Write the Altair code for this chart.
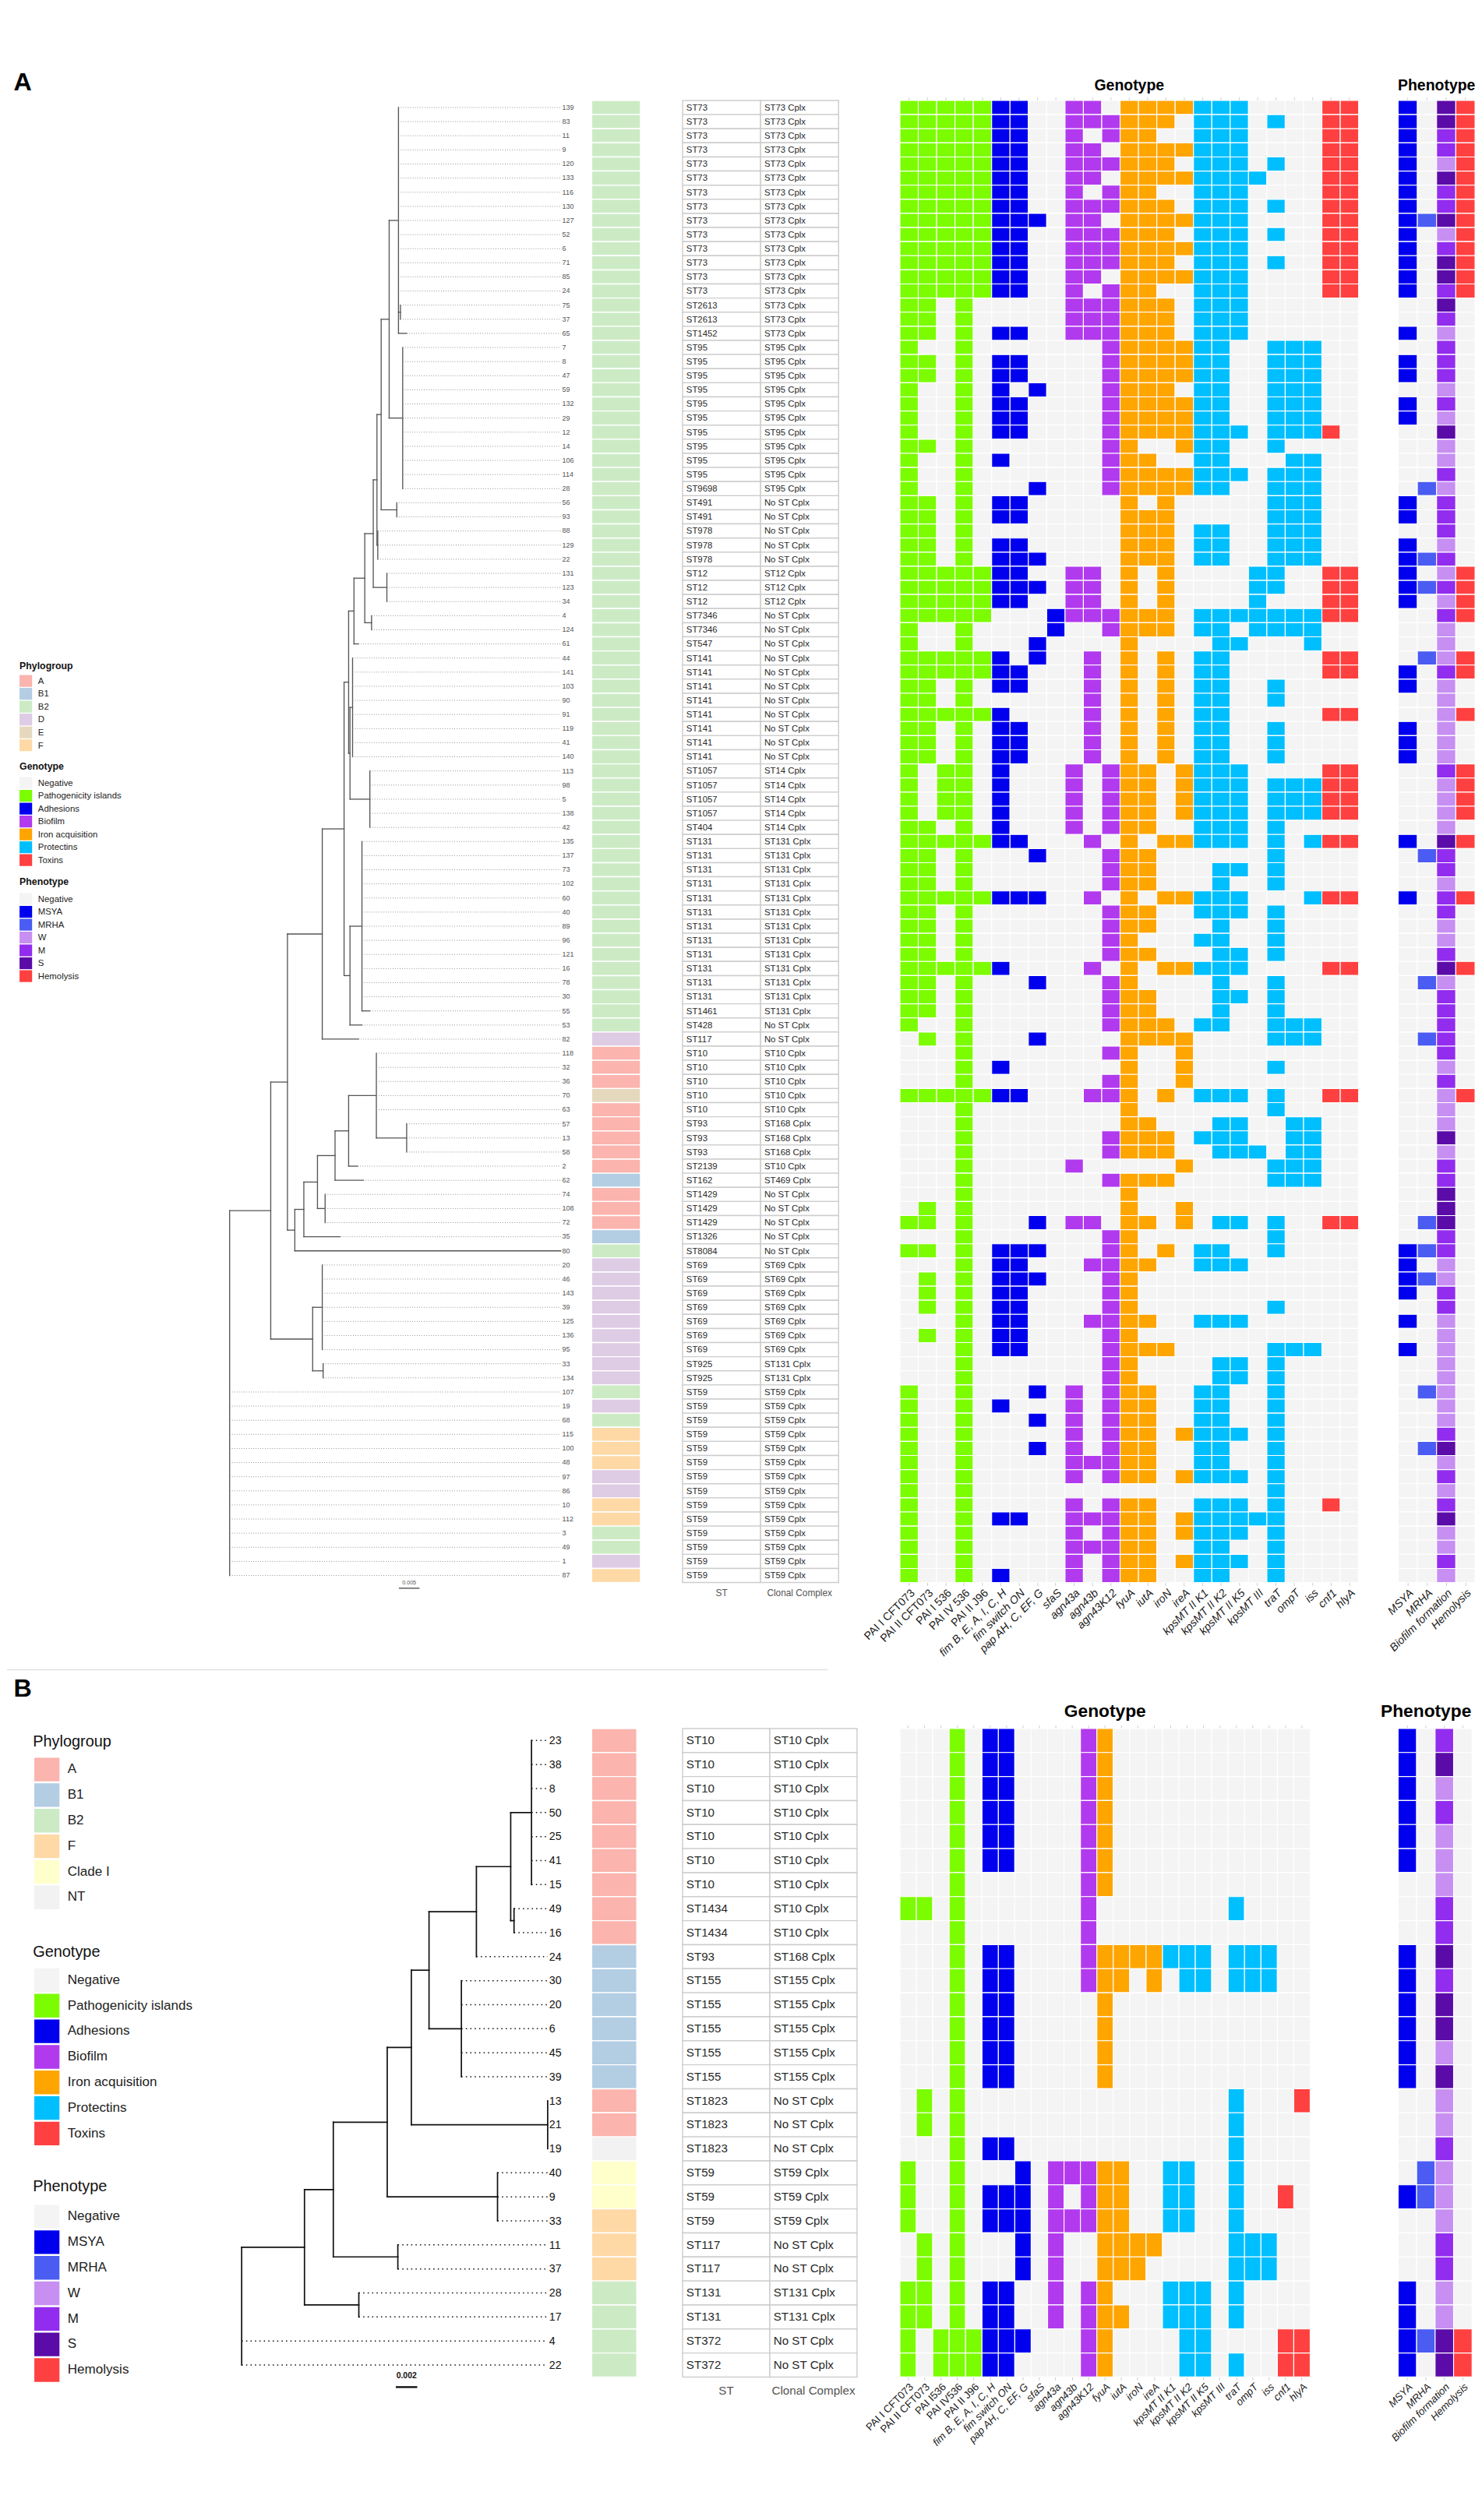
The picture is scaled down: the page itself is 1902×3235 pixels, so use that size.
import altair as alt
import pandas as pd

FONT = "Liberation Sans"

# ====================== DATA ======================
GENES_A = ["PAI I CFT073", "PAI II CFT073", "PAI I 536", "PAI IV 536", "PAI II J96",
           "fim B, E, A, I, C, H", "fim switch ON", "pap AH, C, EF, G", "sfaS",
           "agn43a", "agn43b", "agn43K12", "fyuA", "iutA", "iroN", "ireA",
           "kpsMT II K1", "kpsMT II K2", "kpsMT II K5", "kpsMT III", "traT", "ompT", "iss",
           "cnf1", "hlyA"]
GENES_B = ["PAI I CFT073", "PAI II CFT073", "PAI I536", "PAI IV536", "PAI II J96",
           "fim B, E, A, I, C, H", "fim switch ON", "pap AH, C, EF, G", "sfaS",
           "agn43a", "agn43b", "agn43K12", "fyuA", "iutA", "iroN", "ireA",
           "kpsMT II K1", "kpsMT II K2", "kpsMT II K5", "kpsMT III", "traT", "ompT", "iss",
           "cnf1", "hlyA"]
GENE_GROUP = (["Pathogenicity islands"] * 5 + ["Adhesions"] * 4 + ["Biofilm"] * 3 +
              ["Iron acquisition"] * 4 + ["Protectins"] * 7 + ["Toxins"] * 2)
PHENO_COLS = ["MSYA", "MRHA", "Biofilm formation", "Hemolysis"]

GENO_CATS = ["Negative", "Pathogenicity islands", "Adhesions", "Biofilm",
             "Iron acquisition", "Protectins", "Toxins"]
GENO_COLORS = ["#f4f4f4", "#7cfc00", "#0000ee", "#b23aee", "#ffa500", "#00bfff", "#ff4040"]
PHENO_CATS = ["Negative", "MSYA", "MRHA", "W", "M", "S", "Hemolysis"]
PHENO_COLORS = ["#f4f4f4", "#0000ee", "#4a5cf2", "#c78ff2", "#922cee", "#5b0ba8", "#ff4040"]
PHYLO_A_CATS = ["A", "B1", "B2", "D", "E", "F"]
PHYLO_A_COLORS = ["#fbb4ae", "#b3cde3", "#ccebc5", "#decbe4", "#e5d8bd", "#fed9a6"]
PHYLO_B_CATS = ["A", "B1", "B2", "F", "Clade I", "NT"]
PHYLO_B_COLORS = ["#fbb4ae", "#b3cde3", "#ccebc5", "#fed9a6", "#ffffcc", "#f2f2f2"]

# ---------- panel A ----------
A_ST_RUNS = [("ST73", "ST73 Cplx", 14), ("ST2613", "ST73 Cplx", 2), ("ST1452", "ST73 Cplx", 1),
             ("ST95", "ST95 Cplx", 10), ("ST9698", "ST95 Cplx", 1), ("ST491", "No ST Cplx", 2),
             ("ST978", "No ST Cplx", 3), ("ST12", "ST12 Cplx", 3), ("ST7346", "No ST Cplx", 2),
             ("ST547", "No ST Cplx", 1), ("ST141", "No ST Cplx", 8), ("ST1057", "ST14 Cplx", 4),
             ("ST404", "ST14 Cplx", 1), ("ST131", "ST131 Cplx", 12), ("ST1461", "ST131 Cplx", 1),
             ("ST428", "No ST Cplx", 1), ("ST117", "No ST Cplx", 1), ("ST10", "ST10 Cplx", 5),
             ("ST93", "ST168 Cplx", 3), ("ST2139", "ST10 Cplx", 1), ("ST162", "ST469 Cplx", 1),
             ("ST1429", "No ST Cplx", 3), ("ST1326", "No ST Cplx", 1), ("ST8084", "No ST Cplx", 1),
             ("ST69", "ST69 Cplx", 7), ("ST925", "ST131 Cplx", 2), ("ST59", "ST59 Cplx", 14)]
A_PHYLO_RUNS = [("B2", 66), ("D", 1), ("A", 3), ("E", 1), ("A", 5), ("B1", 1), ("A", 3), ("B1", 1),
                ("B2", 1), ("D", 9), ("B2", 1), ("D", 1), ("B2", 1), ("F", 3), ("D", 2), ("F", 2),
                ("B2", 2), ("D", 1), ("F", 1)]
# genotype presence: PAI(5) adhesins(4) biofilm(3) iron(4) protectins(7) toxins(2)
A_GENO = [
    "11111 1100 110 1111 1110000 11", "11111 1100 111 1110 1110100 11", "11111 1100 101 1100 1110000 11",
    "11111 1100 110 1111 1110000 11", "11111 1100 111 1110 1110100 11", "11111 1100 110 1111 1111000 11",
    "11111 1100 101 1100 1110000 11", "11111 1100 111 1110 1110100 11", "11111 1110 110 1111 1110000 11",
    "11111 1100 111 1110 1110100 11", "11111 1100 111 1111 1110000 11", "11111 1100 111 1110 1110100 11",
    "11111 1100 110 1111 1110000 11", "11111 1100 101 1100 1110000 11", "11010 0000 111 1110 1110000 00",
    "11010 0000 111 1110 1110000 00", "11010 1100 111 1110 1110000 00", "10010 0000 001 1111 1100111 00",
    "11010 1100 001 1111 1100111 00", "11010 1100 001 1111 1100111 00", "10010 1010 001 1110 1100111 00",
    "10010 1100 001 1111 1100111 00", "10010 1100 001 1111 1100111 00", "10010 1100 001 1111 1110111 10",
    "11010 0000 001 1001 1100100 00", "10010 1000 001 1100 1100011 00", "10010 0000 001 1111 1110111 00",
    "10010 0010 001 1111 1100111 00", "11010 1100 000 1010 0000111 00", "11010 1100 000 1110 0000111 00",
    "11010 0000 000 1110 1100111 00", "11010 1100 000 1110 1100111 00", "11010 1110 000 1110 1100111 00",
    "11111 1100 110 1010 0001100 11", "11111 1110 110 1010 0001100 11", "11111 1100 110 1010 0001000 11",
    "11111 0001 111 1110 1111111 11", "10010 0001 001 1110 1101111 00", "10010 0010 000 1000 0110001 00",
    "11111 1010 010 1010 1100000 11", "11111 1100 010 1010 1100000 11", "11010 1100 010 1010 1100100 00",
    "11010 0000 010 1010 1100100 00", "11111 1000 010 1010 1100000 11", "11010 1100 010 1010 1100100 00",
    "11010 1100 010 1010 1100100 00", "11010 1100 010 1010 1100100 00", "10110 1000 101 1101 1110000 11",
    "10110 1000 101 1101 1110111 11", "10110 1000 101 1101 1110111 11", "10110 1000 101 1101 1110111 11",
    "11010 1000 101 1100 1110100 00", "11111 1100 010 1011 1110101 11", "11010 0010 001 1100 0000100 00",
    "11010 0000 001 1100 0110100 00", "11010 0000 001 1100 0100100 00", "11111 1110 010 1011 1110001 11",
    "11010 0000 001 1100 1110100 00", "11010 0000 001 1100 0100100 00", "11010 0000 001 1000 1100100 00",
    "11010 0000 001 1100 0110100 00", "11111 1000 010 1011 1110000 11", "11010 0010 001 1000 0100100 00",
    "11010 0000 001 1100 0110100 00", "11010 0000 001 1100 0100100 00", "10010 0000 001 1110 1100111 00",
    "01010 0010 000 1111 0000111 00", "00010 0000 001 1001 0000000 00", "00010 1000 000 1001 0000100 00",
    "00010 0000 001 1001 0000000 00", "11111 1100 011 1010 1110100 11", "00010 0000 000 1000 0000100 00",
    "00010 0000 000 1100 0110011 00", "00010 0000 001 1110 1110011 00", "00010 0000 001 1110 0111011 00",
    "00010 0000 100 0001 0000111 00", "00010 0000 001 1110 0000111 00", "00010 0000 000 1000 0000000 00",
    "01010 0000 000 1001 0000000 00", "11010 0010 110 1101 0110100 11", "00010 0000 001 1000 0000100 00",
    "11010 1110 001 1010 1100100 00", "00010 1100 011 1100 1110000 00", "01010 1110 001 1000 0000000 00",
    "01010 1100 001 1000 0000000 00", "01010 1100 001 1000 0000100 00", "00010 1100 011 1100 1110000 00",
    "01010 1100 001 1000 0000000 00", "00010 1100 001 1110 0000111 00", "00010 0000 001 1000 0110100 00",
    "00010 0000 001 1000 0110100 00", "10010 0010 101 1100 1100100 00", "10010 1000 101 1100 1100100 00",
    "10010 0010 101 1100 1100100 00", "10010 0000 101 1101 1110100 00", "10010 0010 101 1100 1100100 00",
    "10010 0000 111 1100 1100100 00", "10010 0000 101 1101 1110100 00", "10010 0000 000 0000 0000100 00",
    "10010 0000 101 1100 1110100 10", "10010 1100 111 1101 1111100 00", "10010 0000 101 1101 1110100 00",
    "10010 0000 111 1100 1100100 00", "10010 0000 101 1101 1110100 00", "10010 1000 101 1100 1100100 00",
]
# phenotype: MSYA, MRHA, biofilm level (0/W/M/S), hemolysis
A_PHENO = [
    "10S1", "10S1", "10M1", "10M1", "10W1", "10S1", "10M1", "10M1", "11S1", "10W1", "10M1", "10S1", "10S1", "10M1",
    "00S0", "00M0", "10W0", "00M0", "10M0", "10M0", "00W0", "10M0", "10W0", "00S0", "00W0", "00W0", "00M0", "01W0",
    "10M0", "10M0", "00M0", "10W0", "11M0", "10W1", "11M1", "10W1", "00M1", "00W0", "00W0",
    "01W1", "10M1", "10W0", "00W0", "00W1", "10W0", "10W0", "10W0",
    "00M1", "00W1", "00W1", "00W1", "00W0",
    "10S1", "01M0", "00M0", "00W0", "10M1", "00M0", "00W0", "00W0", "00M0", "00S1", "01W0", "00M0", "00M0", "00M0",
    "01M0", "00M0", "00W0", "00M0", "00W1", "00W0", "00W0", "00S0", "00W0", "00M0", "00M0", "00S0", "00S0", "01S0",
    "00M0", "11M0",
    "10W0", "11W0", "10M0", "00M0", "10W0", "00W0", "10W0", "00W0", "00W0",
    "01W0", "00W0", "00W0", "00M0", "01S0", "00W0", "00M0", "00W0", "00M0", "00S0", "00W0", "00W0", "00M0", "00W0",
]

# ---------- panel B ----------
B_ST_RUNS = [("ST10", "ST10 Cplx", 7), ("ST1434", "ST10 Cplx", 2), ("ST93", "ST168 Cplx", 1),
             ("ST155", "ST155 Cplx", 5), ("ST1823", "No ST Cplx", 3), ("ST59", "ST59 Cplx", 3),
             ("ST117", "No ST Cplx", 2), ("ST131", "ST131 Cplx", 2), ("ST372", "No ST Cplx", 2)]
B_PHYLO_RUNS = [("A", 9), ("B1", 6), ("A", 2), ("NT", 1), ("Clade I", 2), ("F", 3), ("B2", 4)]
B_GENO = [
    "00010 1100 001 1000 0000000 00", "00010 1100 001 1000 0000000 00", "00010 1100 001 1000 0000000 00",
    "00010 1100 001 1000 0000000 00", "00010 1100 001 1000 0000000 00", "00010 1100 001 1000 0000000 00",
    "00010 0000 001 1000 0000000 00", "11010 0000 001 0000 0000100 00", "00010 0000 001 0000 0000000 00",
    "00010 1100 001 1111 1110111 00", "00010 1100 001 1101 0110111 00", "00010 1100 000 1000 0000000 00",
    "00010 1100 000 1000 0000000 00", "00010 1100 000 1000 0000000 00", "00010 1100 000 1000 0000000 00",
    "01010 0000 000 0000 0000100 01", "01010 0000 000 0000 0000100 00", "00010 1100 000 0000 0000100 00",
    "10010 0010 111 1100 1100100 00", "10010 1110 101 1100 1100100 10", "10010 1110 111 1100 1100100 00",
    "01010 0010 100 1111 0000111 00", "01010 0010 100 1110 0000111 00", "11010 1100 101 1000 1110100 00",
    "11010 1100 101 1100 1110100 00", "10111 1110 001 1000 0110000 11", "10111 1100 001 1000 0110100 11",
]
B_PHENO = ["10M0", "10S0", "10W0", "10M0", "10W0", "10W0", "00W0", "00M0", "00M0", "10S0", "10M0", "10S0",
           "10S0", "10W0", "10S0", "00W0", "00W0", "00M0", "01W0", "11W0", "00W0", "00M0", "00M0", "10W0",
           "10W0", "11S1", "10S1"]


# ---------- phylogenies (branch depths in substitutions/site) ----------
def N(depth, *children):
    return ("node", depth, list(children))


def L(label, depth):
    return ("leaf", depth, label)


TREE_A = N(0.0,
    N(0.00993,
      N(0.01397,
        N(0.02238,
          N(0.02765,
            N(0.02875,
              N(0.03004,
                N(0.03265,
                  N(0.03470,
                    N(0.03559,
                      N(0.03661,
                        N(0.03854,
                          N(0.04079, "139", "83", "11", "9", "120", "133", "116", "130", "127", "52", "6",
                            "71", "85", "24", N(0.04127, "75", "37"), L("65", 0.04277)),
                          N(0.04181, "7", "8", "47", "59", "132", "29", "12", "14", "106", "114", "28")),
                        N(0.04038, "56", "93")),
                      N(0.03579, "88", "129", "22")),
                    N(0.03799, "131", "123", "34")),
                  N(0.03429, "4", "124")),
                L("61", 0.03115)),
              N(0.02908,
                N(0.02970, "44", "141", "103", "90", "91", "119", "41", "140"),
                N(0.03388, "113", "98", "5", "138", "42"))),
            N(0.02908,
              N(0.03197, "135", "137", "73", "102", "60", "40", "89", "96", "121", "16", "78", "30",
                L("55", 0.03390)),
              L("53", 0.03197))),
          L("82", 0.03115)),
        N(0.01575,
          N(0.01793,
            N(0.02122,
              N(0.02547,
                N(0.02875,
                  N(0.03545, "118", "32", "36", "70", "63", N(0.04277, "57", "13", "58")),
                  L("2", 0.03093)),
                L("62", 0.03229)),
              N(0.02307, "74", "108", "72")),
            L("35", 0.02670)),
          L("80", 0.0800))),
      N(0.02006,
        N(0.02238, "20", "46", "143", "39", "125", "136", "95"),
        N(0.02259, "33", "134"))),
    "107", "19", "68", "115", "100", "48", "97", "86", "10", "112", "3", "49", "1", "87")

TREE_B = N(0.0,
    N(0.00586,
      N(0.00855,
        N(0.01358,
          N(0.01583,
            N(0.01748,
              N(0.02190,
                N(0.02510,
                  N(0.02704, "23", "38", "8", "50", "25", "41", "15"),
                  N(0.02541, "49", "16")),
                "24"),
              N(0.02050, "30", "20", "6", "45", "39")),
            N(0.02855, "13", "21", "19")),
          N(0.02387, "40", "9", "33")),
        N(0.01457, "11", "37")),
      N(0.01093, "28", "17")),
    "4", "22")

SCALEBAR_A = 0.005
SCALEBAR_B = 0.002


# ====================== HELPERS ======================
def expand(runs):
    out = []
    for r in runs:
        out += [r[:-1] if len(r) > 2 else r[0]] * r[-1]
    return out


def layout_tree(root):
    segs, leaves = [], []
    count = [0]

    def walk(node, pdepth):
        if isinstance(node, str):
            node = ("leaf", None, node)
        kind, depth, payload = node
        d = pdepth if depth is None else depth
        if kind == "leaf":
            count[0] += 1
            y = float(count[0])
            leaves.append({"label": payload, "depth": d, "y": y})
            if d > pdepth:
                segs.append({"x": pdepth, "x2": d, "y": y, "y2": y})
            return y
        ys = [walk(c, d) for c in payload]
        y = (min(ys) + max(ys)) / 2
        segs.append({"x": d, "x2": d, "y": min(ys), "y2": max(ys)})
        if d > pdepth:
            segs.append({"x": pdepth, "x2": d, "y": y, "y2": y})
        return y

    walk(root, 0.0)
    maxd = max(l["depth"] for l in leaves)
    dashes = [{"x": l["depth"], "x2": maxd, "y": l["y"], "y2": l["y"]} for l in leaves if l["depth"] < maxd]
    tips = [{"x": maxd, "y": l["y"], "label": l["label"]} for l in leaves]
    return pd.DataFrame(segs), pd.DataFrame(dashes), pd.DataFrame(tips), maxd


def row_scale(n, hdr_rows):
    # rows 1..n from the top, with a header band above row 1
    return alt.Scale(domain=[n + 0.5, 0.5 - hdr_rows], nice=False, zero=False)


def heading_layer(text, x_px, y_px, fs, weight="bold", align="center"):
    return alt.Chart(pd.DataFrame({"t": [text]})).mark_text(
        align=align, baseline="alphabetic", fontSize=fs, fontWeight=weight, font=FONT, color="black"
    ).encode(text="t:N", x=alt.value(x_px), y=alt.value(y_px))


def legend_layers(groups, w, h, st):
    """groups: (title, title_y, first_item_y, categories, colours); y in view pixels."""
    titles, sw, labs = [], [], []
    for title, ty, fy, cats, cols in groups:
        titles.append({"x": st["tx"], "y": ty, "t": title})
        for k, (c, col) in enumerate(zip(cats, cols)):
            yc = fy + k * st["step"]
            sw.append({"x0": st["sx"], "x1": st["sx"] + st["sw"], "y0": yc - st["sh"] / 2,
                       "y1": yc + st["sh"] / 2, "colour": col})
            labs.append({"x": st["lx"], "y": yc, "t": c})
    xs = alt.Scale(domain=[0, w], nice=False, zero=False)
    ys = alt.Scale(domain=[h, 0], nice=False, zero=False)
    sw_l = alt.Chart(pd.DataFrame(sw)).mark_rect().encode(
        x=alt.X("x0:Q", scale=xs, axis=None), x2="x1:Q",
        y=alt.Y("y0:Q", scale=ys, axis=None), y2="y1:Q",
        color=alt.Color("colour:N", scale=None))
    t_l = alt.Chart(pd.DataFrame(titles)).mark_text(
        align="left", baseline="middle", font=FONT, fontSize=st["tfs"], fontWeight=st["tfw"], color="#111"
    ).encode(x=alt.X("x:Q", scale=xs, axis=None), y=alt.Y("y:Q", scale=ys, axis=None), text="t:N")
    l_l = alt.Chart(pd.DataFrame(labs)).mark_text(
        align="left", baseline="middle", font=FONT, fontSize=st["lfs"], color="#222"
    ).encode(x=alt.X("x:Q", scale=xs, axis=None), y=alt.Y("y:Q", scale=ys, axis=None), text="t:N")
    return [sw_l, t_l, l_l]


def separator_layer(x_len, y_px):
    return alt.Chart(pd.DataFrame({"v": [0]})).mark_rule(color="#e3e3e3", strokeWidth=1.5).encode(
        x=alt.value(0), x2=alt.value(x_len), y=alt.value(y_px))


def side_view(w, h, layers):
    base = alt.Chart(pd.DataFrame({"v": [0]})).mark_rect(opacity=0).encode(
        x=alt.value(0), x2=alt.value(1), y=alt.value(0), y2=alt.value(1))
    return alt.layer(base, *layers).properties(width=w, height=h)


def spacer(w, h):
    return alt.Chart(pd.DataFrame({"v": [0]})).mark_rect(opacity=0).encode(
        x=alt.value(0), x2=alt.value(1), y=alt.value(0), y2=alt.value(1)).properties(width=w, height=h)


def tree_view(root, n, hdr, width, row_h, root_off, px_per_unit, bar_len, bar_x, st):
    segs, dashes, tips, maxd = layout_tree(root)
    xs = alt.Scale(domain=[-root_off / px_per_unit, (width - root_off) / px_per_unit], nice=False, zero=False)
    ys = row_scale(n, hdr / row_h)

    def enc(ch):
        return ch.encode(x=alt.X("x:Q", scale=xs, axis=None), x2=alt.X2("x2:Q"),
                         y=alt.Y("y:Q", scale=ys, axis=None), y2=alt.Y2("y2:Q"))

    solid = enc(alt.Chart(segs).mark_rule(color=st["line"], strokeWidth=st["lw"], strokeCap="square"))
    dash = enc(alt.Chart(dashes).mark_rule(color=st["dash"], strokeWidth=st["dw"], strokeDash=st["dash_pat"]))
    text = alt.Chart(tips).mark_text(align="left", baseline="middle", dx=st["dx"], fontSize=st["fs"],
                                     font=FONT, color=st["tcol"]).encode(
        x=alt.X("x:Q", scale=xs, axis=None), y=alt.Y("y:Q", scale=ys, axis=None), text="label:N")
    bar = pd.DataFrame({"x": [bar_x], "x2": [bar_x + bar_len], "y": [n + st["bar_dy"]],
                        "y2": [n + st["bar_dy"]], "tx": [bar_x + bar_len / 2], "ty": [n + st["txt_dy"]],
                        "label": [str(bar_len)]})
    bar_rule = enc(alt.Chart(bar).mark_rule(color=st["bar_col"], strokeWidth=st["bar_w"]))
    bar_txt = alt.Chart(bar).mark_text(baseline="middle", fontSize=st["bar_fs"], font=FONT,
                                       fontWeight=st["bar_fw"], color=st["bar_col"]).encode(
        x=alt.X("tx:Q", scale=xs, axis=None), y=alt.Y("ty:Q", scale=ys, axis=None), text="label:N")
    return alt.layer(solid, dash, text, bar_rule, bar_txt).properties(width=width, height=hdr + n * row_h)


def strip_view(phylo, n, hdr, width, row_h, cats, colors):
    df = pd.DataFrame({"row": list(range(1, n + 1)), "phylo": phylo, "col": "Phylogroup"})
    df["y0"] = df["row"] - 0.5
    df["y1"] = df["row"] + 0.5
    return alt.Chart(df).mark_rect(stroke="white", strokeWidth=1.5).encode(
        x=alt.X("col:N", axis=None, scale=alt.Scale(paddingInner=0, paddingOuter=0)),
        y=alt.Y("y0:Q", axis=None, scale=row_scale(n, hdr / row_h)), y2="y1:Q",
        color=alt.Color("phylo:N", scale=alt.Scale(domain=cats, range=colors), legend=None),
    ).properties(width=width, height=hdr + n * row_h)


def table_view(st_cc, n, hdr, width, row_h, fs, lfs, lpad):
    recs = []
    for i, (st, cc) in enumerate(st_cc, start=1):
        recs.append({"row": i, "col": "ST", "val": st})
        recs.append({"row": i, "col": "Clonal Complex", "val": cc})
    df = pd.DataFrame(recs)
    df["y0"] = df["row"] - 0.5
    df["y1"] = df["row"] + 0.5
    ax = alt.Axis(title=None, orient="bottom", labelAngle=0, domain=False, ticks=False, labelColor="#555",
                  labelFont=FONT, labelFontSize=lfs, labelPadding=lpad)
    xsc = alt.Scale(domain=["ST", "Clonal Complex"], paddingInner=0, paddingOuter=0)
    ys = row_scale(n, hdr / row_h)
    rect = alt.Chart(df).mark_rect(fill="white", stroke="#cdcdcd", strokeWidth=1.5).encode(
        x=alt.X("col:N", scale=xsc, axis=ax), y=alt.Y("y0:Q", scale=ys, axis=None), y2="y1:Q")
    text = alt.Chart(df).mark_text(align="left", baseline="middle", dx=5, fontSize=fs, font=FONT,
                                   color="#2a2a2a").encode(
        x=alt.X("col:N", scale=xsc, axis=ax, bandPosition=0),
        y=alt.Y("row:Q", scale=ys, axis=None), text="val:N")
    return alt.layer(rect, text).properties(width=width, height=hdr + n * row_h)


LABEL_STYLE = {"condition": {"test": "indexof(datum.label, 'PAI') === 0", "value": "normal"},
               "value": "italic"}


def heat_view(df, cols, n, hdr, cw, row_h, cats, colors, title, title_fs, title_x, title_y, title_align, lfs):
    df = df.copy()
    df["y0"] = df["row"] - 0.5
    df["y1"] = df["row"] + 0.5
    width = len(cols) * cw
    xsc = alt.Scale(domain=cols, paddingInner=0, paddingOuter=0)
    ax = alt.Axis(title=None, orient="bottom", labelAngle=-45, labelAlign="right", labelBaseline="top",
                  labelFont=FONT, labelFontSize=lfs, labelColor="#222", labelFontStyle=LABEL_STYLE,
                  domain=False, ticks=True, tickSize=4, tickColor="#c8c8c8", labelPadding=2,
                  labelLimit=400, labelOverlap=False)
    cells = alt.Chart(df).mark_rect(stroke="white", strokeWidth=1.2).encode(
        x=alt.X("col:N", scale=xsc, axis=ax),
        y=alt.Y("y0:Q", axis=None, scale=row_scale(n, hdr / row_h)), y2="y1:Q",
        color=alt.Color("cat:N", scale=alt.Scale(domain=cats, range=colors), legend=None),
    )
    top_ticks = alt.Chart(pd.DataFrame({"col": cols})).mark_rule(color="#c8c8c8", strokeWidth=1).encode(
        x=alt.X("col:N", scale=xsc, axis=ax), y=alt.value(hdr - 4), y2=alt.value(hdr - 0.5))
    head = heading_layer(title, width * title_x, title_y, title_fs, align=title_align)
    return alt.layer(cells, top_ticks, head).properties(width=width, height=hdr + n * row_h)


def geno_df(rows, genes):
    recs = []
    for i, s in enumerate(rows, start=1):
        bits = s.replace(" ", "")
        for j, g in enumerate(genes):
            recs.append({"row": i, "col": g, "cat": GENE_GROUP[j] if bits[j] == "1" else "Negative"})
    return pd.DataFrame(recs)


def pheno_df(rows):
    recs = []
    for i, c in enumerate(rows, start=1):
        vals = ["MSYA" if c[0] == "1" else "Negative", "MRHA" if c[1] == "1" else "Negative",
                c[2] if c[2] in "WMS" else "Negative", "Hemolysis" if c[3] == "1" else "Negative"]
        for col, v in zip(PHENO_COLS, vals):
            recs.append({"row": i, "col": col, "cat": v})
    return pd.DataFrame(recs)


# ====================== LAYOUT ======================
nA, nB = len(A_GENO), len(B_GENO)
RA, RB = 19.1, 32.5
ORIGIN = 8                      # page margin
VIEW_TOP_A, ROWS_TOP_A = 8.0, 48.5
VIEW_TOP_B, ROWS_TOP_B = 2165.0, 2250.5
HDR_A = ROWS_TOP_A - VIEW_TOP_A
HDR_B = ROWS_TOP_B - VIEW_TOP_B
HA, HB = HDR_A + nA * RA, HDR_B + nB * RB
ROW_GAP = VIEW_TOP_B - (VIEW_TOP_A + HA)

wA = {"sp": 230, "tree": 499, "strip": 66, "g1": 57, "table": 211, "g2": 57.5,
      "heat": 25 * 24.82, "g3": 34, "pheno": 4 * 26.0}
wB = {"sp": 292, "tree": 487, "strip": 61, "g1": 47, "table": 236, "g2": 49,
      "heat": 25 * 22.2, "g3": 53, "pheno": 4 * 25.0}


def lefts(w):
    keys = ["sp", "tree", "strip", "g1", "table", "g2", "heat", "g3", "pheno"]
    out, x = {}, ORIGIN
    for k in keys:
        out[k] = x
        x += w[k]
    return out


xA, xB = lefts(wA), lefts(wB)

# legend styles (view pixels)
legA = {"tx": 17, "sx": 17, "sw": 17, "sh": 16, "lx": 42, "step": 17.4, "tfs": 13, "tfw": "bold", "lfs": 12}
legB = {"tx": 35, "sx": 37, "sw": 34, "sh": 32, "lx": 82, "step": 34.6, "tfs": 21, "tfw": "normal", "lfs": 18}

treeA_style = {"line": "#555555", "lw": 1.4, "dash": "#8a8a8a", "dw": 1.0, "dash_pat": [1, 2.2],
               "dx": 2, "fs": 9.5, "tcol": "#555555", "bar_dy": 0.9, "txt_dy": 0.55,
               "bar_col": "#555555", "bar_w": 1.5, "bar_fs": 7.5, "bar_fw": "normal"}
treeB_style = {"line": "#111111", "lw": 1.8, "dash": "#111111", "dw": 1.6, "dash_pat": [1.6, 4.4],
               "dx": 2, "fs": 15, "tcol": "#111111", "bar_dy": 0.92, "txt_dy": 0.45,
               "bar_col": "#111111", "bar_w": 2.5, "bar_fs": 11, "bar_fw": "bold"}

# ---------- panel A views ----------
A_ST = expand(A_ST_RUNS)
A_PHYLO = expand(A_PHYLO_RUNS)
legend_A = legend_layers([
    ("Phylogroup", 814 - VIEW_TOP_A, 834 - VIEW_TOP_A, PHYLO_A_CATS, PHYLO_A_COLORS),
    ("Genotype", 950 - VIEW_TOP_A, 972 - VIEW_TOP_A, GENO_CATS, GENO_COLORS),
    ("Phenotype", 1106 - VIEW_TOP_A, 1129 - VIEW_TOP_A, PHENO_CATS, PHENO_COLORS),
], wA["sp"], HA, legA)
rowA = [
    side_view(wA["sp"], HA, [heading_layer("A", 9, 35 - VIEW_TOP_A, 34, align="left")] + legend_A),
    tree_view(TREE_A, nA, HDR_A, wA["tree"], RA, 247.2 - xA["tree"], 5600.0, SCALEBAR_A, 0.04088, treeA_style),
    strip_view(A_PHYLO, nA, HDR_A, wA["strip"], RA, PHYLO_A_CATS, PHYLO_A_COLORS),
    spacer(wA["g1"], HA),
    table_view(A_ST, nA, HDR_A, wA["table"], RA, 12, 12.5, 8),
    spacer(wA["g2"], HA),
    heat_view(geno_df(A_GENO, GENES_A), GENES_A, nA, HDR_A, 24.82, RA, GENO_CATS, GENO_COLORS,
              "Genotype", 20.5, 0.5, 34.5 - VIEW_TOP_A, "center", 15),
    spacer(wA["g3"], HA),
    heat_view(pheno_df(A_PHENO), PHENO_COLS, nA, HDR_A, 26.0, RA, PHENO_CATS, PHENO_COLORS,
              "Phenotype", 20.5, 0.5, 34.5 - VIEW_TOP_A, "center", 15),
]

# ---------- panel B views ----------
B_ST = expand(B_ST_RUNS)
B_PHYLO = expand(B_PHYLO_RUNS)
legend_B = legend_layers([
    ("Phylogroup", 2269 - VIEW_TOP_B, 2306 - VIEW_TOP_B, PHYLO_B_CATS, PHYLO_B_COLORS),
    ("Genotype", 2553 - VIEW_TOP_B, 2591 - VIEW_TOP_B, GENO_CATS, GENO_COLORS),
    ("Phenotype", 2871 - VIEW_TOP_B, 2911 - VIEW_TOP_B, PHENO_CATS, PHENO_COLORS),
], wB["sp"], HB, legB)
rowB = [
    side_view(wB["sp"], HB, [separator_layer(1110, 2171 - VIEW_TOP_B),
                             heading_layer("B", 9, 2207 - VIEW_TOP_B, 34, align="left")] + legend_B),
    tree_view(TREE_B, nB, HDR_B, wB["tree"], RB, 325.5 - xB["tree"], 14500.0, SCALEBAR_B, 0.01438, treeB_style),
    strip_view(B_PHYLO, nB, HDR_B, wB["strip"], RB, PHYLO_B_CATS, PHYLO_B_COLORS),
    spacer(wB["g1"], HB),
    table_view(B_ST, nB, HDR_B, wB["table"], RB, 16, 16, 10),
    spacer(wB["g2"], HB),
    heat_view(geno_df(B_GENO, GENES_B), GENES_B, nB, HDR_B, 22.2, RB, GENO_CATS, GENO_COLORS,
              "Genotype", 24, 0.5, 2234.5 - VIEW_TOP_B, "center", 14),
    spacer(wB["g3"], HB),
    heat_view(pheno_df(B_PHENO), PHENO_COLS, nB, HDR_B, 25.0, RB, PHENO_CATS, PHENO_COLORS,
              "Phenotype", 24, 0.99, 2234.5 - VIEW_TOP_B, "right", 14),
]

chart = alt.concat(
    *rowA, *rowB, columns=9, spacing={"row": ROW_GAP, "column": 0},
    bounds="flush", align="none",
).resolve_scale(color="independent", x="independent", y="independent").configure_view(
    strokeWidth=0
).properties(padding=0, background="white")

chart.save("out.html", embed_options={"renderer": "svg", "actions": False})
